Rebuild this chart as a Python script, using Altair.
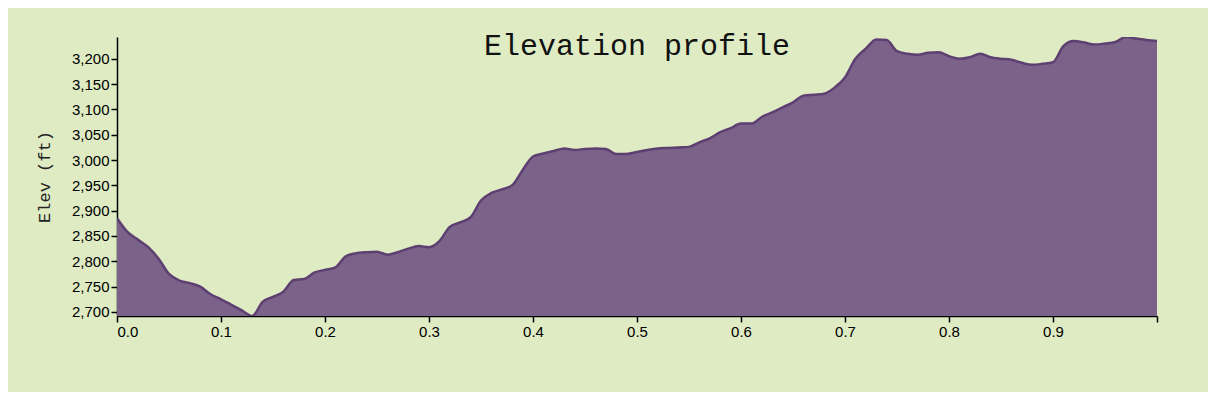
import altair as alt
import pandas as pd

dist = [i / 100 for i in range(101)]
elev = [
    2885, 2858, 2843, 2828, 2805, 2775, 2762, 2757, 2750, 2735,
    2725, 2714, 2703, 2692, 2720, 2730, 2740, 2763, 2765, 2778,
    2783, 2788, 2810, 2816, 2818, 2819, 2813, 2818, 2825, 2830,
    2828, 2840, 2868, 2877, 2887, 2920, 2935, 2942, 2950, 2980,
    3007, 3013, 3018, 3023, 3020, 3022, 3023, 3022, 3012, 3012,
    3016, 3020, 3023, 3024, 3025, 3026, 3035, 3043, 3055, 3063,
    3072, 3072, 3085, 3094, 3104, 3114, 3127, 3129, 3131, 3143,
    3163, 3200, 3220, 3238, 3237, 3215, 3210, 3208, 3212, 3213,
    3205, 3200, 3203, 3210, 3203, 3200, 3198, 3192, 3188, 3190,
    3193, 3225, 3235, 3232, 3228, 3230, 3233, 3243, 3240, 3237,
    3235,
]

df = pd.DataFrame({"dist": dist, "elev": elev})

chart = (
    alt.Chart(df)
    .mark_area(interpolate="monotone", color="#7b6288", opacity=1, clip=True,
               line={"color": "#5e3f72", "strokeWidth": 2.5})
    .encode(
        x=alt.X("dist:Q", title=None, scale=alt.Scale(domain=[0, 1], nice=False),
                axis=alt.Axis(values=[i / 10 for i in range(11)], format=".1f",
                              labelExpr="datum.value >= 1 ? '' : datum.label")),
        y=alt.Y("elev:Q", title="Elev (ft)", scale=alt.Scale(domain=[2692, 3243], nice=False, zero=False),
                axis=alt.Axis(values=list(range(2700, 3201, 50)), format=",.0f", titlePadding=18)),
    )
    .properties(
        width=1040,
        height=279,
        background="#deebc3",
        autosize="none",
        padding={"left": 109, "top": 29, "right": 51, "bottom": 76},
        title=alt.TitleParams("Elevation profile", font="Liberation Mono", fontSize=30,
                              fontWeight="normal", color="#111", offset=-24),
    )
    .configure_view(stroke=None)
    .configure_axis(grid=False, domainColor="black", tickColor="black", labelColor="black",
                    labelFont="Liberation Sans", labelFontSize=15, tickSize=6,
                    titleFont="Liberation Mono", titleFontSize=17, titleFontWeight="normal",
                    titleColor="#222", domainWidth=1.5, tickWidth=1.5)
)

chart.save("out.html", embed_options={"renderer": "svg", "actions": False})
